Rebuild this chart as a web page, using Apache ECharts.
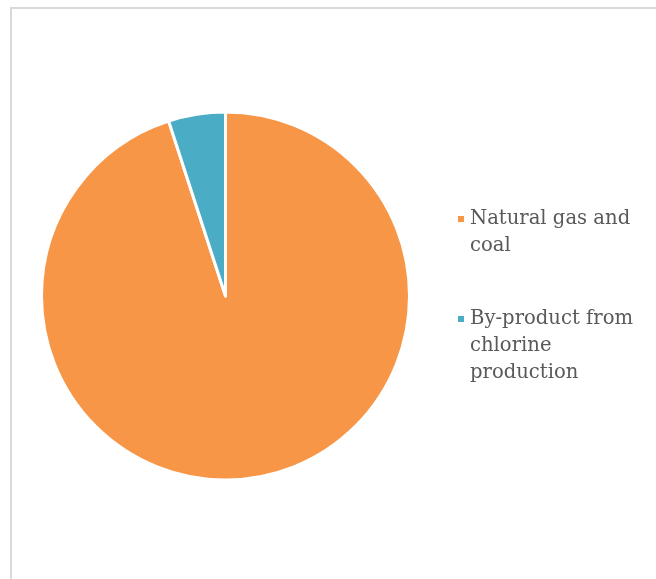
<!DOCTYPE html>
<html>
<head>
<meta charset="utf-8">
<script src="https://cdn.jsdelivr.net/npm/echarts@6/dist/echarts.min.js"></script>
<style>
html,body{margin:0;padding:0;background:#fff;}
#chart{width:656px;height:579px;}
</style>
</head>
<body>
<div id="chart"></div>
<script>
var categories = ['Natural gas and coal', 'By-product from chlorine production'];
var values = [95, 5];
var colors = ['#F79646', '#4BACC6'];
var legendLines = {
  'Natural gas and coal': ['Natural gas and', 'coal'],
  'By-product from chlorine production': ['By-product from', 'chlorine', 'production']
};

var chart = echarts.init(document.getElementById('chart'), null, {renderer: 'canvas'});

function legendFormatter(name) {
  var lines = legendLines[name];
  // pad with blank lines above so the marker centers on the first line
  var pad = [];
  for (var i = 0; i < lines.length - 1; i++) pad.push('');
  return pad.concat(lines).join('\n');
}

var legendText = {
  fontFamily: 'DejaVu Serif',
  fontSize: 19.6,
  color: '#595959',
  lineHeight: 27
};

chart.setOption({
  animation: false,
  backgroundColor: '#ffffff',
  color: colors,
  graphic: [{
    type: 'rect',
    silent: true,
    shape: {x: 11, y: 8, width: 800, height: 800},
    style: {fill: 'none', stroke: '#d9d9d9', lineWidth: 2}
  }],
  legend: [{
    orient: 'vertical',
    left: 456,
    top: 178.5,
    padding: 0,
    itemWidth: 8,
    itemHeight: 8,
    icon: 'rect',
    selectedMode: false,
    data: [categories[0]],
    formatter: legendFormatter,
    textStyle: legendText
  }, {
    orient: 'vertical',
    left: 456,
    top: 251.5,
    padding: 0,
    itemWidth: 8,
    itemHeight: 8,
    icon: 'rect',
    selectedMode: false,
    data: [categories[1]],
    formatter: legendFormatter,
    textStyle: legendText
  }],
  series: [{
    type: 'pie',
    center: [225.5, 296],
    radius: [0, 184],
    startAngle: 90,
    clockwise: true,
    label: {show: false},
    labelLine: {show: false},
    emphasis: {disabled: true},
    itemStyle: {borderColor: '#ffffff', borderWidth: 3},
    data: categories.map(function (c, i) {
      return {name: c, value: values[i]};
    })
  }]
});
</script>
</body>
</html>
